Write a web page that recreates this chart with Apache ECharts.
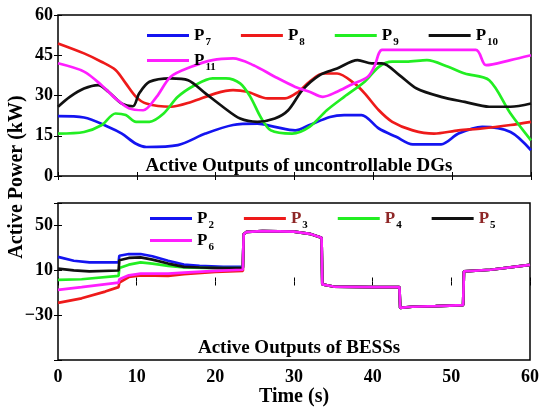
<!DOCTYPE html>
<html>
<head>
<meta charset="utf-8">
<script src="https://cdn.jsdelivr.net/npm/echarts@6/dist/echarts.min.js"></script>
<style>
  html, body { margin: 0; padding: 0; background: #fff; }
  #main { width: 542px; height: 408px; }
</style>
</head>
<body>
<div id="main"></div>
<script>
// 上图: 不可控DG出力 (时间, 功率)
const t7 = [0,3.3,6.4,8.1,9.9,11.2,15.2,18.7,22.2,25.3,27.5,30.1,31.9,34.5,36.3,38.5,40.7,42.9,45,48.6,50.8,53.8,57.4,60];
const p7 = [22.3,21.8,18.3,15.8,12,10.8,11.5,15.8,19,19.5,18.3,17,19,22,22.7,22.7,17.7,14.6,11.8,11.8,15.8,18.3,16.4,9.6];
const t8 = [0,3.3,5.5,7.3,8.6,9.9,11.2,14.3,16.9,20,22.2,24,26.6,28.8,30.5,31.9,33.6,35.4,37.6,38.9,40.7,42.4,45,47.7,50.8,53.8,57.4,60];
const p8 = [49.4,45.7,42.6,39.5,34.5,29.5,27,25.8,27.6,30.8,32,31.4,28.9,28.9,31.4,35.1,38.2,38.2,34.5,30.8,24.5,20.2,17,15.8,17,17.7,19,20.2];
const t9 = [0,3.3,5.5,7.3,8.6,9.9,11.6,13.4,15.2,17.4,19.6,21.3,23.1,24.4,25.7,27,29.7,31.9,34.1,36.3,38.9,40.7,42.4,44.2,46.8,49.5,51.6,54.7,57.4,60];
const p9 = [15.8,16.4,18.9,23.3,22.7,20.2,20.2,23.3,29.5,33.9,36.4,36.4,34.5,29.5,22,17,15.8,18.3,24.5,29.5,35.1,40.7,42.6,42.6,43.2,40.7,38.2,35.7,23.3,13.3];
const t10 = [0,1.5,3.3,5.1,6.4,8.1,9.5,10.3,11.6,14.3,16.5,18.7,20.9,23.1,25.3,27.5,29.2,31,33.2,35.4,38,39.8,41.1,43.3,45.5,48.6,51.6,54.7,57.4,60];
const p10 = [25.8,29.5,32.6,33.9,31.4,27,26,30.8,35.1,36.4,35.7,30.8,25.8,21.4,20.2,21.4,24.5,32,37.6,40.1,43.2,42,42,37.6,32.6,29.5,27.6,25.8,25.8,27];
const t11 = [0,3.3,5.5,7.3,9,10.8,12.5,14.3,16.9,19.6,22.2,24.8,27.5,30.1,31.9,33.6,35.4,37.1,39.3,40.2,40.7,41.1,53,54.3,57.4,60];
const p11 = [42,38.9,33.9,28.9,25.2,24.5,29.5,37,40.7,43.2,43.8,41.3,37,33.2,31.4,29.5,31.4,33.9,37,41.3,45.7,47,47,41.3,43.2,45];

// 下图: BESS出力, 前段各不相同, 23.5s 之后重合
const t2 = [0,2,4,7.7,7.8,9,10.5,12,14,16,18,21,23.5];
const p2 = [22,18.5,17,17,23,24.5,24.5,22.5,18.5,15,14,13,13];
const t3 = [0,3,6,7.7,7.8,9,10.5,14,16,20,23.5];
const p3 = [-19,-15,-9,-5,-1,4,5.5,5,6.5,8.5,9.5];
const t4 = [0,3,7.7,7.8,9,10.5,12,14,16,20,23.5];
const p4 = [1.5,2,5,12,15,17,16,14,12.5,12,12];
const t5 = [0,2,4,7.7,7.8,9,10.5,12,14,16,18,21,23.5];
const p5 = [11.5,10,9,9.8,19,21,21.5,19.5,16,13,12.5,12,12];
const t6 = [0,3,7.7,7.8,9,10.5,14,16,20,23.5];
const p6 = [-7.5,-5,-1,2,5.5,7,7,8,9.5,10.5];
const tTail = [23.6,24,26,30,32,33.5,33.6,35,40,43.4,43.5,45,48,51.5,51.6,55,60];
const pTail = [42,44.3,45,44.5,42.5,39,-2.5,-4.5,-5,-5,-23.5,-22.5,-22,-21,9,10.5,14.8];

const colors = { blue:'#1414f0', red:'#ee1a1a', green:'#22ee22', black:'#111111', magenta:'#ff1eff' };
const FONT = '"Liberation Serif", "DejaVu Serif", serif';

function zip(t, v) { return t.map((x, i) => [x, v[i]]); }

function lineSeries(name, color, data, gi, smooth) {
  return {
    name: name, type: 'line', xAxisIndex: gi, yAxisIndex: gi,
    data: data, symbol: 'none', smooth: smooth, animation: false,
    lineStyle: { color: color, width: 2.7 }, itemStyle: { color: color }
  };
}

function legendFmt(name) {
  const n = name.slice(1);
  const red = (n === '3' || n === '4' || n === '5');
  return '{' + (red ? 'pr' : 'p') + '|P}{s|' + n + '}';
}
const legendRich = {
  p: { fontFamily: FONT, fontWeight: 'bold', fontSize: 17, color: '#000' },
  pr: { fontFamily: FONT, fontWeight: 'bold', fontSize: 17, color: '#8e2626' },
  s: { fontFamily: FONT, fontWeight: 'bold', fontSize: 11, color: '#000', padding: [14, 0, 0, 1] }
};
function legend(data, left, top) {
  return {
    data: data, left: left, top: top, icon: 'rect', itemWidth: 42, itemHeight: 3, itemGap: 30,
    itemTextGap: 3, formatter: legendFmt, selectedMode: false,
    textStyle: { rich: legendRich }
  };
}

const tickLabel = { fontFamily: FONT, fontWeight: 'bold', fontSize: 18, color: '#000' };

function xAxes(gi, showLabel) {
  return [
    { gridIndex: gi, type: 'value', min: 0, max: 60, interval: 10, position: 'bottom',
      axisLine: { show: false }, splitLine: { show: false },
      axisTick: { inside: true, length: 4, lineStyle: { color: '#000' } },
      axisLabel: Object.assign({ show: showLabel, margin: 8 }, tickLabel),
      name: showLabel ? 'Time (s)' : '', nameLocation: 'middle', nameGap: 27,
      nameTextStyle: { fontFamily: FONT, fontWeight: 'bold', fontSize: 20, color: '#000' } },
    { gridIndex: gi, type: 'value', min: 0, max: 60, interval: 10, position: 'top',
      axisLine: { show: false }, splitLine: { show: false }, axisLabel: { show: false },
      axisTick: { inside: true, length: 4, lineStyle: { color: '#000' } } }
  ];
}
function yAxes(gi, min, max, interval, fmt) {
  return [
    { gridIndex: gi, type: 'value', min: min, max: max, interval: interval, position: 'left',
      axisLine: { show: false }, splitLine: { show: false },
      axisTick: { inside: true, length: 4, lineStyle: { color: '#000' } },
      axisLabel: Object.assign({ margin: 5, formatter: fmt }, tickLabel) },
    { gridIndex: gi, type: 'value', min: min, max: max, interval: interval, position: 'right',
      axisLine: { show: false }, splitLine: { show: false }, axisLabel: { show: false },
      axisTick: { inside: true, length: 4, lineStyle: { color: '#000' } } }
  ];
}

let myChart = echarts.init(document.getElementById('main'));
let option = {
  backgroundColor: '#fff',
  animation: false,
  grid: [
    { left: 58, right: 11, top: 15, height: 161, show: true, borderColor: '#000', borderWidth: 1.5 },
    { left: 58, right: 11, top: 203, height: 159, show: true, borderColor: '#000', borderWidth: 1.5 }
  ],
  title: [
    { text: 'Active Outputs of uncontrollable DGs', left: 294, textAlign: 'center', top: 152,
      textStyle: { fontFamily: FONT, fontWeight: 'bold', fontSize: 19, color: '#000' } },
    { text: 'Active Outputs of BESSs', left: 294, textAlign: 'center', top: 334,
      textStyle: { fontFamily: FONT, fontWeight: 'bold', fontSize: 19, color: '#000' } }
  ],
  legend: [
    legend(['P7', 'P8', 'P9', 'P10'], 142, 22),
    legend(['P11'], 142, 47),
    legend(['P2', 'P3', 'P4', 'P5'], 145, 205),
    legend(['P6'], 145, 227)
  ],
  xAxis: xAxes(0, false).concat(xAxes(1, true)),
  yAxis: yAxes(0, 0, 60, 15, v => String(v)).concat(
         yAxes(1, -70, 70, 40, v => (v === 70 || v === -70) ? '' : String(v).replace('-', '\u2212'))),
  graphic: [
    { type: 'text', x: 17, y: 177, rotation: Math.PI / 2,
      style: { text: 'Active Power (kW)', font: 'bold 20px ' + FONT, fill: '#000',
               textAlign: 'center', textVerticalAlign: 'middle' } }
  ],
  series: [
    lineSeries('P7', colors.blue, zip(t7, p7), 0, 0.3),
    lineSeries('P8', colors.red, zip(t8, p8), 0, 0.3),
    lineSeries('P9', colors.green, zip(t9, p9), 0, 0.3),
    lineSeries('P10', colors.black, zip(t10, p10), 0, 0.3),
    lineSeries('P11', colors.magenta, zip(t11, p11), 0, 0.3),
    // 下图使用 xAxis/yAxis 索引 2
    lineSeries('P2', colors.blue, zip(t2.concat(tTail), p2.concat(pTail)), 2, false),
    lineSeries('P3', colors.red, zip(t3.concat(tTail), p3.concat(pTail)), 2, false),
    lineSeries('P4', colors.green, zip(t4.concat(tTail), p4.concat(pTail)), 2, false),
    lineSeries('P5', colors.black, zip(t5.concat(tTail), p5.concat(pTail)), 2, false),
    lineSeries('P6', colors.magenta, zip(t6.concat(tTail), p6.concat(pTail)), 2, false)
  ]
};
myChart.setOption(option);
window.addEventListener('resize', function () { myChart.resize(); });
</script>
</body>
</html>
